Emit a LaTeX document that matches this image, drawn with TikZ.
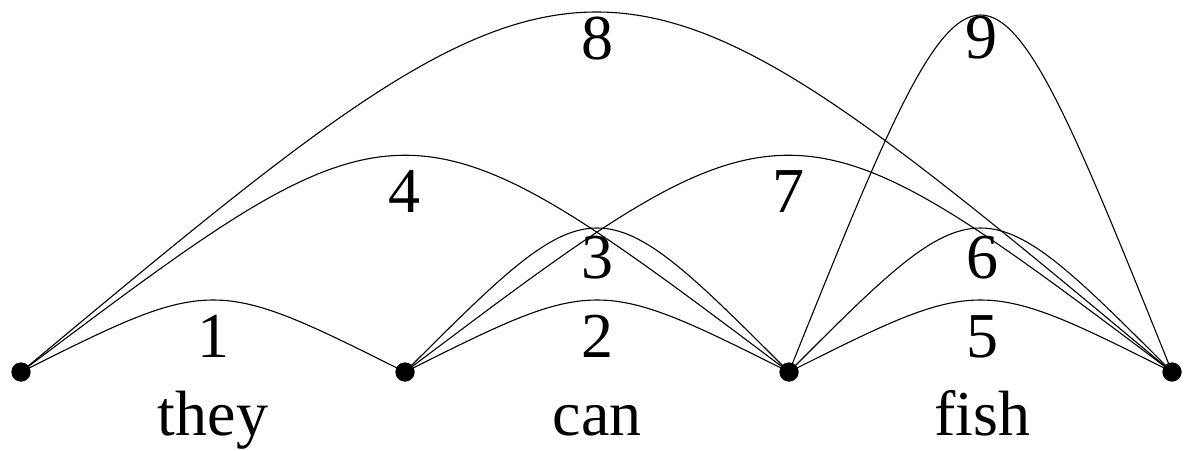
\documentclass[tikz,border=0pt]{standalone}
\usepackage{fontspec}
\setmainfont{Liberation Serif}
\usetikzlibrary{calc}
\tikzset{
  dot/.style={circle,fill=black,inner sep=0pt,minimum size=9.5pt},
  arc/.style={line width=0.55pt,black},
  lbl/.style={anchor=base,inner sep=0pt,font=\fontsize{32}{36}\selectfont},
}
\begin{document}
\begin{tikzpicture}[x=0.5pt,y=-0.5pt]
\useasboundingbox (0,0) rectangle (1186,450);
\node[dot] (w0) at (21,372) {};
\node[dot] (w1) at (405,372) {};
\node[dot] (w2) at (789,372) {};
\node[dot] (w3) at (1172,372) {};
% arcs
\draw[arc] (w0.center) .. controls ($(w0.center)!0.5!(w1.center)+(0,-96)$) .. (w1.center);
\draw[arc] (w1.center) .. controls ($(w1.center)!0.5!(w2.center)+(0,-96)$) .. (w2.center);
\draw[arc] (w1.center) .. controls ($(w1.center)!0.5!(w2.center)+(0,-192)$) .. (w2.center);
\draw[arc] (w0.center) .. controls ($(w0.center)!0.5!(w2.center)+(0,-289)$) .. (w2.center);
\draw[arc] (w2.center) .. controls ($(w2.center)!0.5!(w3.center)+(0,-96)$) .. (w3.center);
\draw[arc] (w2.center) .. controls ($(w2.center)!0.5!(w3.center)+(0,-192)$) .. (w3.center);
\draw[arc] (w1.center) .. controls ($(w1.center)!0.5!(w3.center)+(0,-289)$) .. (w3.center);
\draw[arc] (w0.center) .. controls ($(w0.center)!0.5!(w3.center)+(0,-480)$) .. (w3.center);
\draw[arc] (w2.center) .. controls ($(w2.center)!0.5!(w3.center)+(0,-476)$) .. (w3.center);
% dots on top
\fill (w0.center) circle (9.5);
\fill (w1.center) circle (9.5);
\fill (w2.center) circle (9.5);
\fill (w3.center) circle (9.5);
% labels
\node[lbl] (l1) at (213,357) {1};
\node[lbl] (l2) at (597,357) {2};
\node[lbl] (l3) at (597,278) {3};
\node[lbl] (l4) at (404,212) {4};
\node[lbl] (l5) at (982,357) {5};
\node[lbl] (l6) at (982,278) {6};
\node[lbl] (l7) at (788,212) {7};
\node[lbl] (l8) at (597,59) {8};
\node[lbl] (l9) at (981,58) {9};
\node[lbl] (t0) at (213,435) {they};
\node[lbl] (t1) at (597,435) {can};
\node[lbl] (t2) at (982,435) {fish};
\end{tikzpicture}
\end{document}
